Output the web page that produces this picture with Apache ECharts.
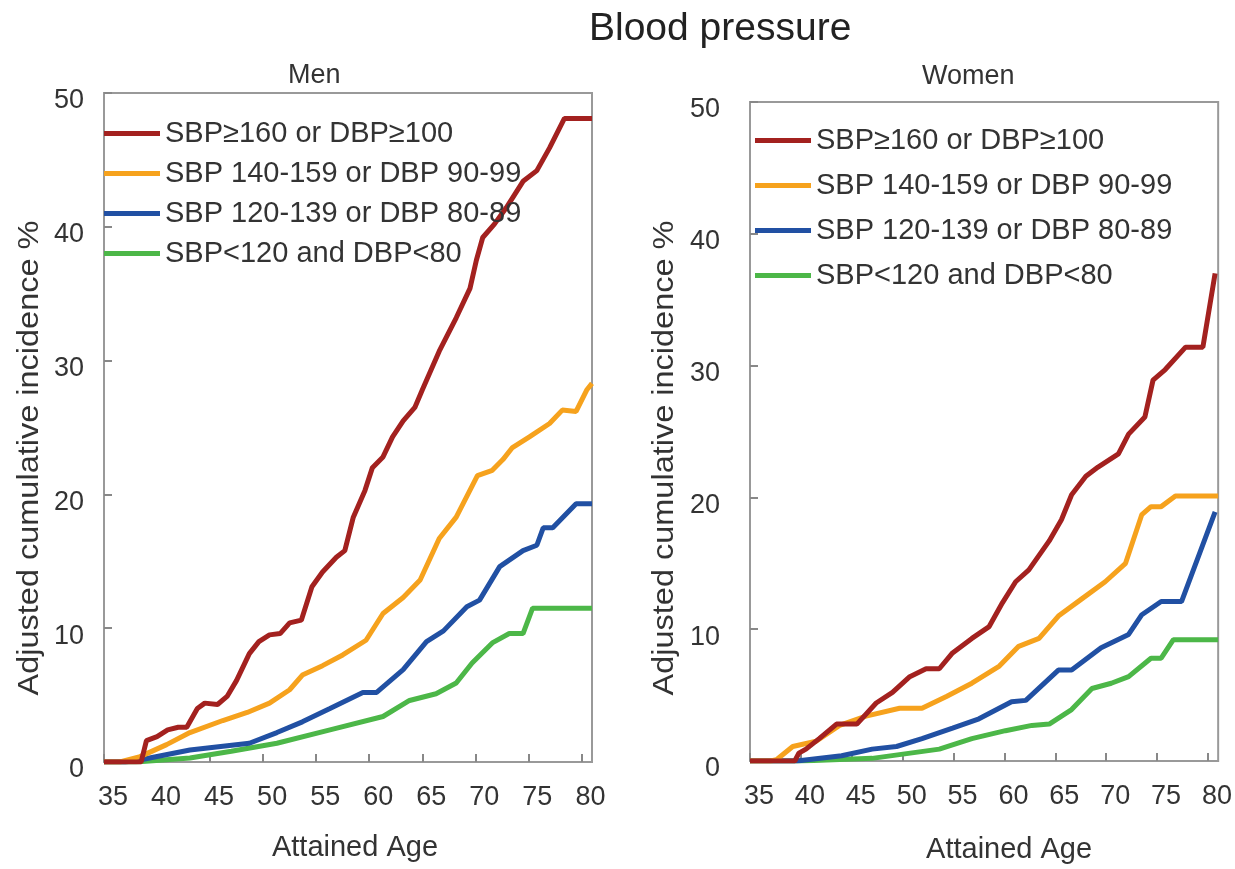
<!DOCTYPE html>
<html>
<head>
<meta charset="utf-8">
<title>Blood pressure</title>
<script src="https://cdn.jsdelivr.net/npm/echarts@6/dist/echarts.min.js"></script>
<style>
  html, body { margin: 0; padding: 0; background: #fff; }
  #main { width: 1235px; height: 869px; }
</style>
</head>
<body>
<div id="main"></div>
<script>
var seriesNames = ['SBP≥160 or DBP≥100', 'SBP 140-159 or DBP 90-99', 'SBP 120-139 or DBP 80-89', 'SBP<120 and DBP<80'];
var seriesColors = ['#a3211f', '#f6a21d', '#2150a3', '#4cb748'];
var ageTicks = [35, 40, 45, 50, 55, 60, 65, 70, 75, 80];

// Men: [attained age, adjusted cumulative incidence %]
var menHigh = [[35,0],[38.5,0],[39,1.6],[40,1.9],[41,2.4],[42,2.6],[42.8,2.6],[43.8,4.0],[44.5,4.4],[45.7,4.3],[46.6,4.9],[47.5,6.1],[48.7,8.1],[49.6,9.0],[50.6,9.5],[51.6,9.6],[52.5,10.4],[53.6,10.6],[54.6,13.1],[55.6,14.2],[56.9,15.3],[57.7,15.8],[58.5,18.3],[59.6,20.3],[60.3,22.0],[61.3,22.8],[62.2,24.3],[63.2,25.5],[64.3,26.5],[65.0,27.8],[66.6,30.7],[68.2,33.2],[69.5,35.4],[70.1,37.5],[70.7,39.2],[71.8,40.2],[72.9,41.4],[74.5,43.4],[75.8,44.2],[77.0,45.9],[78.4,48.1],[81,48.1]];
var menStage1 = [[35,0],[36.5,0],[38.4,0.4],[40.9,1.3],[43.1,2.2],[46.2,3.1],[48.5,3.7],[50.6,4.4],[52.5,5.4],[53.7,6.5],[55.6,7.2],[57.5,8.0],[59.7,9.1],[61.3,11.1],[63.2,12.3],[64.8,13.6],[66.6,16.7],[68.2,18.3],[70.2,21.4],[71.6,21.8],[72.6,22.6],[73.5,23.5],[75.1,24.3],[77.0,25.3],[78.2,26.3],[79.5,26.2],[80.5,27.8],[81,28.3]];
var menPrehyp = [[35,0],[37,0],[38.7,0.2],[43.1,0.9],[48.7,1.4],[51.3,2.2],[53.7,3.0],[56.3,4.0],[59.4,5.2],[60.7,5.2],[63.2,6.9],[65.4,9.0],[67.0,9.8],[69.2,11.6],[70.4,12.1],[72.3,14.6],[74.5,15.8],[75.8,16.2],[76.4,17.5],[77.3,17.5],[79.5,19.3],[81,19.3]];
var menNormal = [[35,0],[38,0],[43.1,0.3],[47,0.8],[51.3,1.4],[56.3,2.4],[61.3,3.4],[63.8,4.6],[66.3,5.1],[68.2,5.9],[69.7,7.4],[71.6,8.9],[73.2,9.6],[74.5,9.6],[75.4,11.5],[81,11.5]];

// Women
var womenHigh = [[35,0],[39.4,0],[39.8,0.6],[40.5,0.9],[41.8,1.7],[43.5,2.8],[45.5,2.8],[47.4,4.4],[49.0,5.2],[50.7,6.4],[52.3,7.0],[53.6,7.0],[54.9,8.2],[56.8,9.3],[58.5,10.2],[59.8,12.0],[61.1,13.6],[62.4,14.5],[64.4,16.7],[65.6,18.3],[66.6,20.2],[68.0,21.6],[69.2,22.3],[71.2,23.3],[72.2,24.8],[73.8,26.1],[74.6,28.9],[75.8,29.7],[77.8,31.4],[79.5,31.4],[80.7,37.0]];
var womenStage1 = [[35,0],[37,0],[37.6,0.1],[39.2,1.1],[41.5,1.5],[43.8,2.7],[46.4,3.4],[49.7,4.0],[51.9,4.0],[54.3,4.9],[56.8,5.9],[59.5,7.2],[61.4,8.7],[63.4,9.3],[65.3,11.0],[67.6,12.3],[69.9,13.6],[71.9,15.0],[73.5,18.7],[74.4,19.3],[75.4,19.3],[76.8,20.1],[81,20.1]];
var womenPrehyp = [[35,0],[39.6,0],[44,0.4],[47.0,0.9],[49.4,1.1],[51.9,1.7],[54.9,2.5],[57.5,3.2],[60.7,4.5],[62.1,4.6],[65.3,6.9],[66.6,6.9],[69.5,8.6],[72.2,9.6],[73.5,11.1],[75.4,12.1],[77.4,12.1],[80.7,18.9]];
var womenNormal = [[35,0],[40,0],[47.0,0.2],[53.6,0.9],[56.8,1.7],[60.1,2.3],[62.7,2.7],[64.4,2.8],[66.6,3.9],[68.6,5.5],[70.5,5.9],[72.2,6.4],[74.4,7.8],[75.4,7.8],[76.6,9.2],[81,9.2]];

var FONT = "'Liberation Sans', Arial, Helvetica, sans-serif";
var chart = echarts.init(document.getElementById('main'));

function makeX(idx, nameShift, nameGap) {
	return {
		type: 'value',
		gridIndex: idx,
		min: 35,
		max: 81,
		interval: 5,
		name: 'Attained Age',
		nameLocation: 'middle',
		nameGap: nameGap,
		nameTextStyle: { fontFamily: FONT, fontSize: 29, color: '#333', padding: [0, 0, 0, nameShift] },
		axisLine: { show: false },
		axisTick: { show: true, inside: true, length: 8, lineStyle: { color: '#888', width: 2 } },
		axisLabel: { fontFamily: FONT, fontSize: 27, color: '#333', margin: 22, padding: [0, 0, 0, 18], showMaxLabel: false,
			formatter: function (v) { return ageTicks.indexOf(v) >= 0 ? v : ''; } },
		splitLine: { show: false }
	};
}
function makeY(idx, margin) {
	return {
		type: 'value',
		gridIndex: idx,
		min: 0,
		max: 50,
		interval: 10,
		axisLine: { show: false },
		axisTick: { show: true, inside: true, length: 8, lineStyle: { color: '#888', width: 2 } },
		axisLabel: { fontFamily: FONT, fontSize: 27, color: '#333', margin: margin, verticalAlign: 'top', lineHeight: 16 },
		splitLine: { show: false }
	};
}
function makeLegend(left, top, gap) {
	return {
		left: left,
		top: top,
		padding: 0,
		orient: 'vertical',
		icon: 'rect',
		itemWidth: 56,
		itemHeight: 5,
		itemGap: gap,
		selectedMode: false,
		data: seriesNames,
		textStyle: { fontFamily: FONT, fontSize: 29, color: '#333' }
	};
}
function line(name, color, data, idx) {
	return {
		name: name,
		type: 'line',
		xAxisIndex: idx,
		yAxisIndex: idx,
		data: data,
		showSymbol: false,
		symbol: 'none',
		lineStyle: { color: color, width: 5 },
		itemStyle: { color: color },
		silent: true
	};
}

var menData = [menHigh, menStage1, menPrehyp, menNormal];
var womenData = [womenHigh, womenStage1, womenPrehyp, womenNormal];
var series = [];
for (var i = seriesNames.length - 1; i >= 0; i--) {
	series.push(line(seriesNames[i], seriesColors[i], menData[i], 0));
	series.push(line(seriesNames[i], seriesColors[i], womenData[i], 1));
}

var option = {
	backgroundColor: '#fff',
	animation: false,
	color: seriesColors,
	title: [
		{ text: 'Blood pressure', left: 589, top: 10, padding: 0, textStyle: { fontFamily: FONT, fontSize: 39, fontWeight: 'normal', color: '#222' } },
		{ text: 'Men', left: 288, top: 62, padding: 0, textStyle: { fontFamily: FONT, fontSize: 27, fontWeight: 'normal', color: '#333' } },
		{ text: 'Women', left: 922, top: 63, padding: 0, textStyle: { fontFamily: FONT, fontSize: 27, fontWeight: 'normal', color: '#333' } }
	],
	legend: [makeLegend(104, 119, 11), makeLegend(755, 126, 16)],
	grid: [
		{ left: 104, top: 93, width: 488, height: 669, show: true, borderColor: '#999', borderWidth: 2, backgroundColor: 'transparent' },
		{ left: 750, top: 102, width: 470, height: 663, show: true, borderColor: '#999', borderWidth: 2, backgroundColor: 'transparent' }
	],
	xAxis: [makeX(0, 14, 71), makeX(1, 50, 74)],
	yAxis: [makeY(0, 20), makeY(1, 30)],
	graphic: [
		{ type: 'text', x: 30, y: 458, rotation: Math.PI / 2, scaleX: 1.12, style: { text: 'Adjusted cumulative incidence %', font: '29px ' + FONT, fill: '#333', textAlign: 'center', textVerticalAlign: 'middle' } },
		{ type: 'text', x: 665, y: 458, rotation: Math.PI / 2, scaleX: 1.12, style: { text: 'Adjusted cumulative incidence %', font: '29px ' + FONT, fill: '#333', textAlign: 'center', textVerticalAlign: 'middle' } }
	],
	series: series
};
chart.setOption(option);
window.onresize = chart.resize;
</script>
</body>
</html>
